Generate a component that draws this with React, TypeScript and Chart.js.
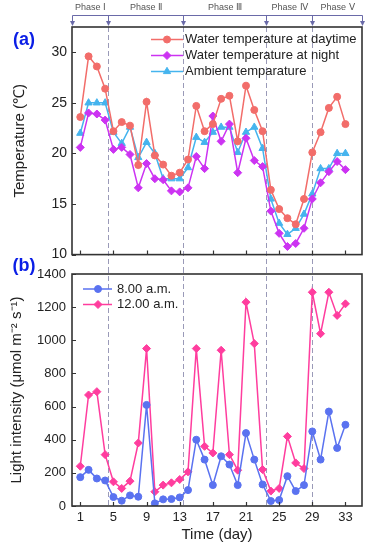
import React, { useEffect, useRef } from 'react';
import { Chart, registerables } from 'chart.js';

Chart.register(...registerables);

const FONT = 'Liberation Sans, Arial, Helvetica, sans-serif';

const days = [1, 2, 3, 4, 5, 6, 7, 8, 9, 10, 11, 12, 13, 14, 15, 16, 17, 18, 19, 20, 21, 22, 23, 24, 25, 26, 27, 28, 29, 30, 31, 32, 33];

const tempDaytime = [23.6, 29.6, 28.6, 26.4, 22.2, 23.1, 22.75, 18.85, 25.1, 19.8, 18.9, 17.8, 18.1, 19.4, 24.7, 22.2, 22.9, 25.4, 25.7, 21.2, 26.7, 24.3, 22.2, 16.4, 14.5, 13.6, 13.0, 15.5, 20.1, 22.1, 24.5, 25.6, 22.9];
const tempNight = [20.6, 24.0, 23.9, 23.3, 20.4, 20.6, 19.9, 16.6, 19.0, 17.5, 17.4, 16.3, 16.2, 16.6, 19.7, 18.5, 23.7, 21.2, 22.9, 18.1, 21.5, 19.3, 18.7, 14.3, 12.1, 10.8, 11.1, 12.6, 15.5, 17.1, 18.2, 19.2, 18.4];
const tempAmbient = [22.0, 25.0, 25.0, 25.0, 22.1, 21.0, 22.6, 19.6, 21.1, 20.0, 17.5, 17.5, 17.5, 18.6, 21.6, 21.1, 22.1, 22.6, 22.6, 20.1, 22.1, 22.6, 20.5, 15.5, 13.1, 12.0, 12.6, 14.0, 16.0, 18.5, 18.5, 20.0, 20.0];

const light8am = [174, 218, 166, 154, 54, 32, 64, 56, 610, 16, 40, 42, 52, 96, 400, 280, 126, 300, 250, 126, 440, 280, 130, 30, 36, 180, 90, 126, 450, 280, 570, 350, 490];
const light12am = [240, 670, 690, 310, 146, 106, 150, 380, 950, 86, 126, 140, 160, 206, 950, 360, 320, 940, 310, 216, 1230, 980, 220, 90, 106, 420, 260, 226, 1290, 1040, 1290, 1150, 1220];

const xTickValues = [1, 5, 9, 13, 17, 21, 25, 29, 33];
const tempTickValues = [10, 15, 20, 25, 30];
const lightTickValues = [0, 200, 400, 600, 800, 1000, 1200, 1400];

const phaseBounds = [4.4, 13.4, 23.4, 29];
const phaseLabels = ['Phase Ⅰ', 'Phase Ⅱ', 'Phase Ⅲ', 'Phase Ⅳ', 'Phase Ⅴ'];

const tempLabels = ['Water temperature at daytime', 'Water temperature at night', 'Ambient temparature'];
const lightLabels = ['8.00 a.m.', '12.00 a.m.'];

const X_MIN = 0;
const X_MAX = 35;

function toXY(ys: number[]) {
  return days.map((d, i) => ({ x: d, y: ys[i] }));
}

function drawMarker(ctx: CanvasRenderingContext2D, style: string, x: number, y: number, r: number, color: string) {
  ctx.save();
  ctx.fillStyle = color;
  ctx.strokeStyle = color;
  ctx.lineWidth = 1;
  ctx.beginPath();
  if (style === 'circle') {
    ctx.arc(x, y, r, 0, Math.PI * 2);
  } else if (style === 'rectRot') {
    ctx.moveTo(x - r, y);
    ctx.lineTo(x, y - r);
    ctx.lineTo(x + r, y);
    ctx.lineTo(x, y + r);
    ctx.closePath();
  } else if (style === 'triangle') {
    let rad = 0;
    ctx.moveTo(x + Math.sin(rad) * r, y - Math.cos(rad) * r);
    rad += (2 * Math.PI) / 3;
    ctx.lineTo(x + Math.sin(rad) * r, y - Math.cos(rad) * r);
    rad += (2 * Math.PI) / 3;
    ctx.lineTo(x + Math.sin(rad) * r, y - Math.cos(rad) * r);
    ctx.closePath();
  }
  ctx.fill();
  ctx.stroke();
  ctx.restore();
}

function drawFrameAndTicks(chart: any, yTicks: number[]) {
  const { ctx, chartArea } = chart;
  const xs = chart.scales.x;
  const ys = chart.scales.y;
  ctx.save();
  ctx.strokeStyle = '#333';
  ctx.lineWidth = 1.2;
  ctx.beginPath();
  xTickValues.forEach((v) => {
    const px = Math.round(xs.getPixelForValue(v)) + 0.5;
    ctx.moveTo(px, chartArea.bottom);
    ctx.lineTo(px, chartArea.bottom - 4);
  });
  yTicks.forEach((v) => {
    const py = Math.round(ys.getPixelForValue(v)) + 0.5;
    ctx.moveTo(chartArea.left, py);
    ctx.lineTo(chartArea.left + 4, py);
  });
  ctx.stroke();
  ctx.lineWidth = 1.6;
  ctx.strokeRect(chartArea.left, chartArea.top, chartArea.right - chartArea.left, chartArea.bottom - chartArea.top);
  ctx.restore();
}

function drawDashed(chart: any, yFrom: number, yTo: number) {
  const { ctx } = chart;
  const xs = chart.scales.x;
  ctx.save();
  ctx.strokeStyle = '#9a9ab8';
  ctx.lineWidth = 1;
  ctx.setLineDash([5, 3]);
  ctx.beginPath();
  phaseBounds.forEach((b) => {
    const px = Math.round(xs.getPixelForValue(b)) + 0.5;
    ctx.moveTo(px, yFrom);
    ctx.lineTo(px, yTo);
  });
  ctx.stroke();
  ctx.restore();
}

function drawLegend(chart: any, x0: number, x1: number, xm: number, xt: number, rows: number[]) {
  const { ctx } = chart;
  ctx.save();
  chart.data.datasets.forEach((ds: any, i: number) => {
    const y = rows[i];
    ctx.strokeStyle = ds.borderColor;
    ctx.lineWidth = 1.5;
    ctx.beginPath();
    ctx.moveTo(x0, y);
    ctx.lineTo(x1, y);
    ctx.stroke();
    drawMarker(ctx, ds.pointStyle, xm, y, ds.pointRadius, ds.borderColor);
    ctx.fillStyle = '#222';
    ctx.font = `13px ${FONT}`;
    ctx.textAlign = 'left';
    ctx.textBaseline = 'middle';
    ctx.fillText(ds.label, xt, y);
  });
  ctx.restore();
}

function drawPanelLabel(chart: any, text: string, x: number, y: number) {
  const { ctx } = chart;
  ctx.save();
  ctx.fillStyle = '#0a1ee6';
  ctx.font = `bold 18px ${FONT}`;
  ctx.textAlign = 'center';
  ctx.textBaseline = 'middle';
  ctx.fillText(text, x, y);
  ctx.restore();
}

const TOP_H = 268;
const BOTTOM_TOP = 250;
const BOTTOM_H = 550 - BOTTOM_TOP;

const topPlugin = {
  id: 'topPanelDecor',
  beforeDatasetsDraw(chart: any) {
    drawDashed(chart, chart.chartArea.top, chart.height);
  },
  afterDraw(chart: any) {
    const { ctx } = chart;
    const xs = chart.scales.x;
    drawFrameAndTicks(chart, tempTickValues);
    const barY = 15.5;
    const bounds = [X_MIN, ...phaseBounds, X_MAX];
    const pxs = bounds.map((b) => Math.round(xs.getPixelForValue(b)) + 0.5);
    ctx.save();
    ctx.strokeStyle = '#6a6aa8';
    ctx.fillStyle = '#6a6aa8';
    ctx.lineWidth = 1;
    ctx.beginPath();
    ctx.moveTo(pxs[0], barY);
    ctx.lineTo(pxs[pxs.length - 1], barY);
    pxs.forEach((px) => {
      ctx.moveTo(px, barY);
      ctx.lineTo(px, 22);
    });
    ctx.stroke();
    pxs.forEach((px) => {
      ctx.beginPath();
      ctx.moveTo(px - 2.5, 21);
      ctx.lineTo(px + 2.5, 21);
      ctx.lineTo(px, 26);
      ctx.closePath();
      ctx.fill();
    });
    ctx.fillStyle = '#555';
    ctx.font = `9px ${FONT}`;
    ctx.textAlign = 'center';
    ctx.textBaseline = 'middle';
    phaseLabels.forEach((lab, i) => {
      ctx.fillText(lab, (pxs[i] + pxs[i + 1]) / 2, 8);
    });
    ctx.restore();
    drawLegend(chart, 151, 183, 167, 185, [39.5, 55.5, 71.5]);
    drawPanelLabel(chart, '(a)', 24, 40);
  },
};

const bottomPlugin = {
  id: 'bottomPanelDecor',
  beforeDatasetsDraw(chart: any) {
    drawDashed(chart, TOP_H - BOTTOM_TOP, chart.chartArea.bottom);
  },
  afterDraw(chart: any) {
    drawFrameAndTicks(chart, lightTickValues);
    const off = chart.chartArea.top;
    drawLegend(chart, 83, 112, 98, 117, [off + 15, off + 30.5]);
    drawPanelLabel(chart, '(b)', 24, 266 - BOTTOM_TOP);
  },
};

export default function App() {
  const topRef = useRef<HTMLCanvasElement | null>(null);
  const botRef = useRef<HTMLCanvasElement | null>(null);

  useEffect(() => {
    document.body.style.margin = '0';
    Chart.defaults.font.family = FONT;
    Chart.defaults.color = '#222';

    const lineDs = (label: string, data: number[], color: string, style: string, r: number) => ({
      label,
      data: toXY(data),
      borderColor: color,
      backgroundColor: color,
      pointBackgroundColor: color,
      pointBorderColor: color,
      pointBorderWidth: 1,
      pointStyle: style,
      pointRadius: r,
      borderWidth: 1.5,
      tension: 0,
    });

    const top = new Chart(topRef.current as HTMLCanvasElement, {
      type: 'line',
      data: {
        datasets: [
          lineDs(tempLabels[0], tempDaytime, '#f26d6a', 'circle', 3.5),
          lineDs(tempLabels[1], tempNight, '#cc33f2', 'rectRot', 4),
          lineDs(tempLabels[2], tempAmbient, '#45b4ee', 'triangle', 4.2),
        ],
      },
      options: {
        responsive: false,
        animation: false,
        layout: { padding: { top: 27, right: 9, left: 0, bottom: 0 } },
        plugins: { legend: { display: false }, tooltip: { enabled: false } },
        scales: {
          x: {
            type: 'linear',
            min: X_MIN,
            max: X_MAX,
            grid: { display: false, drawTicks: false },
            border: { display: false },
            ticks: { display: false },
            afterBuildTicks: (s: any) => {
              s.ticks = xTickValues.map((v) => ({ value: v }));
            },
            afterFit: (s: any) => {
              s.height = 7;
            },
          },
          y: {
            min: 10,
            max: 32.5,
            grid: { display: false, drawTicks: false },
            border: { display: false },
            ticks: { font: { size: 14, family: FONT }, padding: 5, color: '#222', callback: (v: any) => String(v) },
            afterBuildTicks: (s: any) => {
              s.ticks = tempTickValues.map((v) => ({ value: v }));
            },
            afterFit: (s: any) => {
              s.width = 72;
            },
            title: {
              display: true,
              text: 'Temperature (℃)',
              font: { size: 15, family: FONT },
              color: '#222',
              padding: { top: 11, bottom: 0 },
            },
          },
        },
      } as any,
      plugins: [topPlugin],
    });

    const bottom = new Chart(botRef.current as HTMLCanvasElement, {
      type: 'line',
      data: {
        datasets: [
          lineDs(lightLabels[0], light8am, '#5a72f0', 'circle', 3.5),
          lineDs(lightLabels[1], light12am, '#ff3d9e', 'rectRot', 4),
        ],
      },
      options: {
        responsive: false,
        animation: false,
        layout: { padding: { top: 274 - BOTTOM_TOP, right: 9, left: 0, bottom: 0 } },
        plugins: { legend: { display: false }, tooltip: { enabled: false } },
        scales: {
          x: {
            type: 'linear',
            min: X_MIN,
            max: X_MAX,
            grid: { display: false, drawTicks: false },
            border: { display: false },
            ticks: { font: { size: 13, family: FONT }, padding: 4, color: '#222', maxRotation: 0, autoSkip: false, callback: (v: any) => String(v) },
            afterBuildTicks: (s: any) => {
              s.ticks = xTickValues.map((v) => ({ value: v }));
            },
            afterFit: (s: any) => {
              s.height = 44;
            },
            title: {
              display: true,
              text: 'Time (day)',
              font: { size: 15, family: FONT },
              color: '#222',
              padding: { top: 0, bottom: 6 },
            },
          },
          y: {
            min: 0,
            max: 1400,
            grid: { display: false, drawTicks: false },
            border: { display: false },
            ticks: { font: { size: 13, family: FONT }, padding: 6, color: '#222', callback: (v: any) => String(v) },
            afterBuildTicks: (s: any) => {
              s.ticks = lightTickValues.map((v) => ({ value: v }));
            },
            afterFit: (s: any) => {
              s.width = 72;
            },
            title: {
              display: true,
              text: 'Light intensity (μmol m⁻² s⁻¹)',
              font: { size: 15, family: FONT },
              color: '#222',
              padding: { top: 8, bottom: 0 },
            },
          },
        },
      } as any,
      plugins: [bottomPlugin],
    });

    return () => {
      top.destroy();
      bottom.destroy();
    };
  }, []);

  return (
    <div style={{ position: 'relative', width: 371, height: 550, background: '#fff' }}>
      <canvas ref={topRef} width={371} height={TOP_H} style={{ position: 'absolute', left: 0, top: 0, width: 371, height: TOP_H }} />
      <canvas ref={botRef} width={371} height={BOTTOM_H} style={{ position: 'absolute', left: 0, top: BOTTOM_TOP, width: 371, height: BOTTOM_H }} />
    </div>
  );
}
